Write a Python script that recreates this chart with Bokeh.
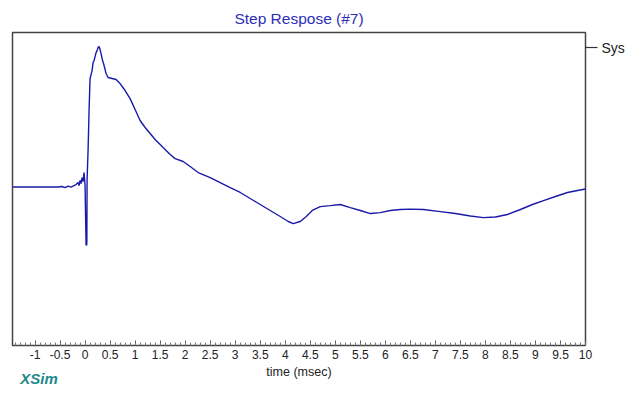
import numpy as np
from bokeh.plotting import figure
from bokeh.models import (LinearAxis, FixedTicker, Range1d, ColumnDataSource)
from bokeh.embed import file_html
from bokeh.resources import INLINE

# ---- data (time in msec, normalised amplitude) ----
time_ms = [-1.45, -0.54, -0.46, -0.40, -0.34, -0.28, -0.22, -0.18, -0.14, -0.12,
           -0.10, -0.08, -0.06, -0.04, -0.02, 0.00, 0.02, 0.026, 0.032, 0.036,
           0.04, 0.06, 0.08, 0.10, 0.12, 0.14, 0.16, 0.18, 0.20, 0.22,
           0.24, 0.26, 0.28, 0.30, 0.32, 0.34, 0.38, 0.42, 0.46, 0.54,
           0.62, 0.70, 0.80, 0.90, 1.00, 1.10, 1.20, 1.30, 1.40, 1.50,
           1.60, 1.70, 1.80, 1.96, 2.10, 2.26, 2.50, 2.70, 2.90, 3.10,
           3.30, 3.50, 3.70, 3.90, 4.06, 4.16, 4.30, 4.42, 4.54, 4.70,
           4.90, 5.10, 5.30, 5.50, 5.70, 5.90, 6.10, 6.30, 6.50, 6.76,
           7.10, 7.40, 7.70, 7.96, 8.20, 8.44, 8.70, 8.94, 9.16, 9.40,
           9.64, 9.84, 10.0]
sys_resp = [0.0, 0.0, 0.004, -0.004, 0.007, 0.0, 0.011, 0.018, 0.032, 0.011,
            0.047, 0.025, 0.068, 0.039, 0.104, 0.011, -0.419, -0.380, -0.419, -0.390,
            0.047, 0.262, 0.548, 0.778, 0.806, 0.835, 0.892, 0.907, 0.935, 0.964,
            0.978, 1.000, 1.007, 0.986, 0.957, 0.921, 0.871, 0.814, 0.785, 0.778,
            0.771, 0.742, 0.692, 0.634, 0.556, 0.477, 0.427, 0.384, 0.341, 0.305,
            0.269, 0.233, 0.204, 0.183, 0.147, 0.104, 0.068, 0.032, -0.004, -0.039,
            -0.082, -0.125, -0.168, -0.211, -0.247, -0.262, -0.247, -0.211, -0.168, -0.140,
            -0.133, -0.125, -0.147, -0.168, -0.190, -0.183, -0.168, -0.161, -0.158, -0.161,
            -0.176, -0.190, -0.208, -0.219, -0.215, -0.197, -0.161, -0.125, -0.097, -0.068,
            -0.039, -0.025, -0.014]

major_ticks = [-1, -0.5, 0, 0.5, 1, 1.5, 2, 2.5, 3, 3.5, 4, 4.5, 5, 5.5, 6,
               6.5, 7, 7.5, 8, 8.5, 9, 9.5, 10]
tick_labels = {t: ("%g" % t) for t in major_ticks}
minor_ticks = [round(-1.4 + 0.1 * i, 2) for i in range(115)]
series_name = "Sys"
series_key_level = [1.0]          # where the series key tick sits on the right
brand_text = "XSim"
brand_at = [-0.92]                # time position under which the brand label sits

FONT = "Liberation Sans"
W, H = 636, 392

p = figure(width=W, height=H, output_backend="svg", toolbar_location=None,
           x_axis_location=None, y_axis_location=None,
           x_range=Range1d(-1.45, 10.0), y_range=Range1d(-1.136, 1.108),
           min_border_left=12, min_border_right=51, min_border_top=32,
           min_border_bottom=47)

p.title.text = "Step Respose (#7)"
p.title.align = "center"
p.title.text_color = "#2e2eb8"
p.title.text_font = FONT
p.title.text_font_size = "15.5px"
p.title.text_font_style = "normal"
p.title.standoff = 12

p.grid.visible = False
p.outline_line_color = "#444444"
p.outline_line_width = 1.5
p.background_fill_color = "white"
p.border_fill_color = "white"

src = ColumnDataSource(dict(t=time_ms, v=sys_resp))
r = p.line("t", "v", source=src, line_color="#1a1aa8", line_width=1.4)

xaxis = LinearAxis(ticker=FixedTicker(ticks=major_ticks, minor_ticks=minor_ticks),
                   major_label_overrides=tick_labels)
xaxis.axis_line_color = None
xaxis.major_tick_in = 5
xaxis.major_tick_out = 0
xaxis.minor_tick_in = 3
xaxis.minor_tick_out = 0
xaxis.major_tick_line_color = "#555555"
xaxis.minor_tick_line_color = "#777777"
xaxis.major_label_standoff = 4
xaxis.major_label_text_font = FONT
xaxis.major_label_text_font_size = "12px"
xaxis.major_label_text_color = "#222222"
xaxis.axis_label = "time (msec)"
xaxis.axis_label_text_font = FONT
xaxis.axis_label_text_font_size = "12.5px"
xaxis.axis_label_text_font_style = "normal"
xaxis.axis_label_text_color = "#222222"
xaxis.axis_label_standoff = 3
p.add_layout(xaxis, "below")

# brand label under the axis (an axis with a single labelled position)
brand_axis = LinearAxis(ticker=FixedTicker(ticks=brand_at, minor_ticks=[]),
                        major_label_overrides={brand_at[0]: brand_text})
brand_axis.axis_line_color = None
brand_axis.major_tick_line_color = None
brand_axis.major_tick_in = 0
brand_axis.major_tick_out = 0
brand_axis.minor_tick_line_color = None
brand_axis.major_label_standoff = -12
brand_axis.major_label_text_font = FONT
brand_axis.major_label_text_font_size = "15px"
brand_axis.major_label_text_font_style = "bold italic"
brand_axis.major_label_text_color = "#1f8a8a"
p.add_layout(brand_axis, "below")

# series key at the right of the frame: a tick mark with the series name
key_axis = LinearAxis(ticker=FixedTicker(ticks=series_key_level, minor_ticks=[]),
                      major_label_overrides={series_key_level[0]: series_name})
key_axis.axis_line_color = None
key_axis.major_tick_in = 0
key_axis.major_tick_out = 12
key_axis.major_tick_line_color = "#333333"
key_axis.major_tick_line_width = 1.2
key_axis.minor_tick_line_color = None
key_axis.major_label_standoff = 4
key_axis.major_label_orientation = "horizontal"
key_axis.major_label_text_font = FONT
key_axis.major_label_text_font_size = "14px"
key_axis.major_label_text_color = "#222222"
p.add_layout(key_axis, "right")

open("out.html", "w").write(file_html(p, INLINE))
